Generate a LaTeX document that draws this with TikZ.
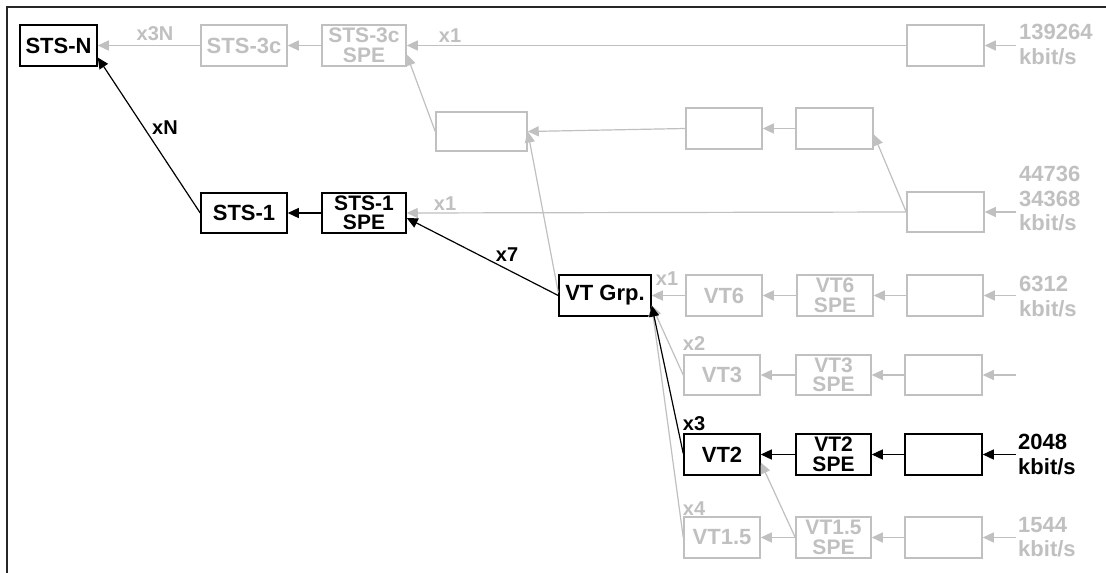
\documentclass[tikz,border=0pt]{standalone}
\usepackage{fontspec}
\setmainfont{Liberation Sans}
\usetikzlibrary{arrows.meta,calc}
\definecolor{lg}{RGB}{192,192,192}
\begin{document}
\begin{tikzpicture}[x=1pt,y=-1pt,
  box/.style={draw, line width=1.5pt, minimum height=41pt, inner sep=0pt,
    font=\bfseries\fontsize{22}{19}\selectfont, align=center},
  two/.style={font=\bfseries\fontsize{21}{19.5}\selectfont},
  gy/.style={draw=lg, text=lg},
  conn/.style={line width=1.2pt, -{Triangle[length=11pt,width=10pt]}},
  lbl/.style={font=\bfseries\fontsize{20}{20}\selectfont, inner sep=0pt},
  rate/.style={font=\bfseries\fontsize{22}{24.5}\selectfont, align=left, anchor=north west, inner sep=0pt}]
\useasboundingbox (0,0) rectangle (1106,573);
\fill[white] (0,0) rectangle (1106,573);
\draw[line width=2pt, black!85] (7,573) -- (7,7) -- (1106,7);

% row 1
\node[box,minimum width=77pt] (stsn) at (58.5,45.5) {STS-N};
\node[box,gy,minimum width=86pt] (sts3c) at (244,45.5) {STS-3c};
\node[box,gy,two,minimum width=84pt] (spe3c) at (364,45.5) {STS-3c\\SPE};
\node[box,gy,minimum width=77pt] (rtop) at (945.5,45.5) {};
% row 2
\node[box,gy,minimum width=91pt,minimum height=39pt] (m1) at (481.5,131.5) {};
\node[box,gy,minimum width=76pt] (m2) at (724,128.5) {};
\node[box,gy,minimum width=77pt] (m3) at (834.5,128.5) {};
% row 3
\node[box,minimum width=86pt,minimum height=40pt] (sts1) at (244,213) {STS-1};
\node[box,two,minimum width=84pt,minimum height=40pt] (spe1) at (364,213) {STS-1\\SPE};
\node[box,gy,minimum width=77pt,minimum height=40pt] (r45) at (945.5,212) {};
% VT rows
\node[box,minimum width=92pt] (vtg) at (605,295.5) {VT Grp.};
\node[box,gy,minimum width=76pt] (vt6) at (724,295.5) {VT6};
\node[box,gy,two,minimum width=76pt] (spe6) at (835,295.5) {VT6\\SPE};
\node[box,gy,minimum width=76pt] (r6) at (945,295.5) {};

\node[box,gy,minimum width=76pt,minimum height=40pt] (vt3) at (722,375) {VT3};
\node[box,gy,two,minimum width=75pt,minimum height=40pt] (spe3) at (833.5,375) {VT3\\SPE};
\node[box,gy,minimum width=77pt,minimum height=40pt] (r3) at (943.5,375) {};

\node[box,minimum width=76pt] (vt2) at (722,454.5) {VT2};
\node[box,two,minimum width=75pt] (spe2) at (833.5,454.5) {VT2\\SPE};
\node[box,minimum width=77pt] (r2) at (943.5,454.5) {};

\node[box,gy,minimum width=76pt] (vt15) at (722,537.5) {VT1.5};
\node[box,gy,two,minimum width=75pt] (spe15) at (833.5,537.5) {VT1.5\\SPE};
\node[box,gy,minimum width=77pt] (r15) at (943.5,537.5) {};

% input coordinates
\coordinate (itop) at (1016,45.5);
\coordinate (i45) at (1016,212);
\coordinate (i6) at (1016,295.5);
\coordinate (i3) at (1016,375);
\coordinate (i2) at (1016,454.5);
\coordinate (i15) at (1016,537.5);

% rate labels
\node[rate,text=lg] (t1) at (1019,24) {139264\\kbit/s};
\node[rate,text=lg] (t2) at (1019,166) {44736\\34368\\kbit/s};
\node[rate,text=lg] (t3) at (1019,276) {6312\\kbit/s};
\node[rate] (t4) at (1018,434) {2048\\kbit/s};
\node[rate,text=lg] (t5) at (1018,517) {1544\\kbit/s};

% gray connectors
\draw[conn,lg] (itop) -- (rtop.east);
\draw[conn,lg] (rtop.west) -- (spe3c.east);
\draw[conn,lg] (spe3c.west) -- (sts3c.east);
\draw[conn,lg] (sts3c.west) -- (stsn.east);
\draw[conn,lg] (m1.west) -- ([yshift=-9pt]spe3c.east);
\draw[conn,lg] (m2.west) -- (m1.east);
\draw[conn,lg] (m3.west) -- (m2.east);
\draw[conn,lg] (i45) -- (r45.east);
\draw[conn,lg] (r45.west) -- ([yshift=-6pt]m3.east);
\draw[conn,lg] (r45.west) -- (spe1.east);
\draw[conn,lg] ([yshift=3pt]vtg.west) -- (m1.east);
\draw[conn,lg] (i6) -- (r6.east);
\draw[conn,lg] (r6.west) -- (spe6.east);
\draw[conn,lg] (spe6.west) -- (vt6.east);
\draw[conn,lg] (vt6.west) -- (vtg.east);
\draw[conn,lg] (i3) -- (r3.east);
\draw[conn,lg] (r3.west) -- (spe3.east);
\draw[conn,lg] (spe3.west) -- (vt3.east);
\draw[conn,lg] (vt3.west) -- ([yshift=-10pt]vtg.east);
\draw[conn,lg] (i15) -- (r15.east);
\draw[conn,lg] (r15.west) -- (spe15.east);
\draw[conn,lg] (spe15.west) -- (vt15.east);
\draw[conn,lg] (vt15.west) -- ([yshift=-10pt]vtg.east);
\draw[conn,lg] (spe15.west) -- ([yshift=-8pt]vt2.east);

% black connectors
\draw[conn] (sts1.west) -- ([yshift=-12pt]stsn.east);
\draw[conn] (spe1.west) -- (sts1.east);
\draw[conn] (vtg.west) -- ([yshift=-5pt]spe1.east);
\draw[conn] (i2) -- (r2.east);
\draw[conn] (r2.west) -- (spe2.east);
\draw[conn] (spe2.west) -- (vt2.east);
\draw[conn] ([yshift=1pt]vt2.west) -- ([yshift=-10pt]vtg.east);

% connector labels
\node[lbl,text=lg] (lx3n) at (155,34) {x3N};
\node[lbl,text=lg] (lx1a) at (450,36) {x1};
\node[lbl] (lxn) at (165,128) {xN};
\node[lbl,text=lg] (lx1b) at (445,204) {x1};
\node[lbl] (lx7) at (507,255) {x7};
\node[lbl,text=lg] (lx1c) at (667,279) {x1};
\node[lbl,text=lg] (lx2) at (694,344) {x2};
\node[lbl] (lx3) at (694,424) {x3};
\node[lbl,text=lg] (lx4) at (694,509) {x4};
\end{tikzpicture}
\end{document}
